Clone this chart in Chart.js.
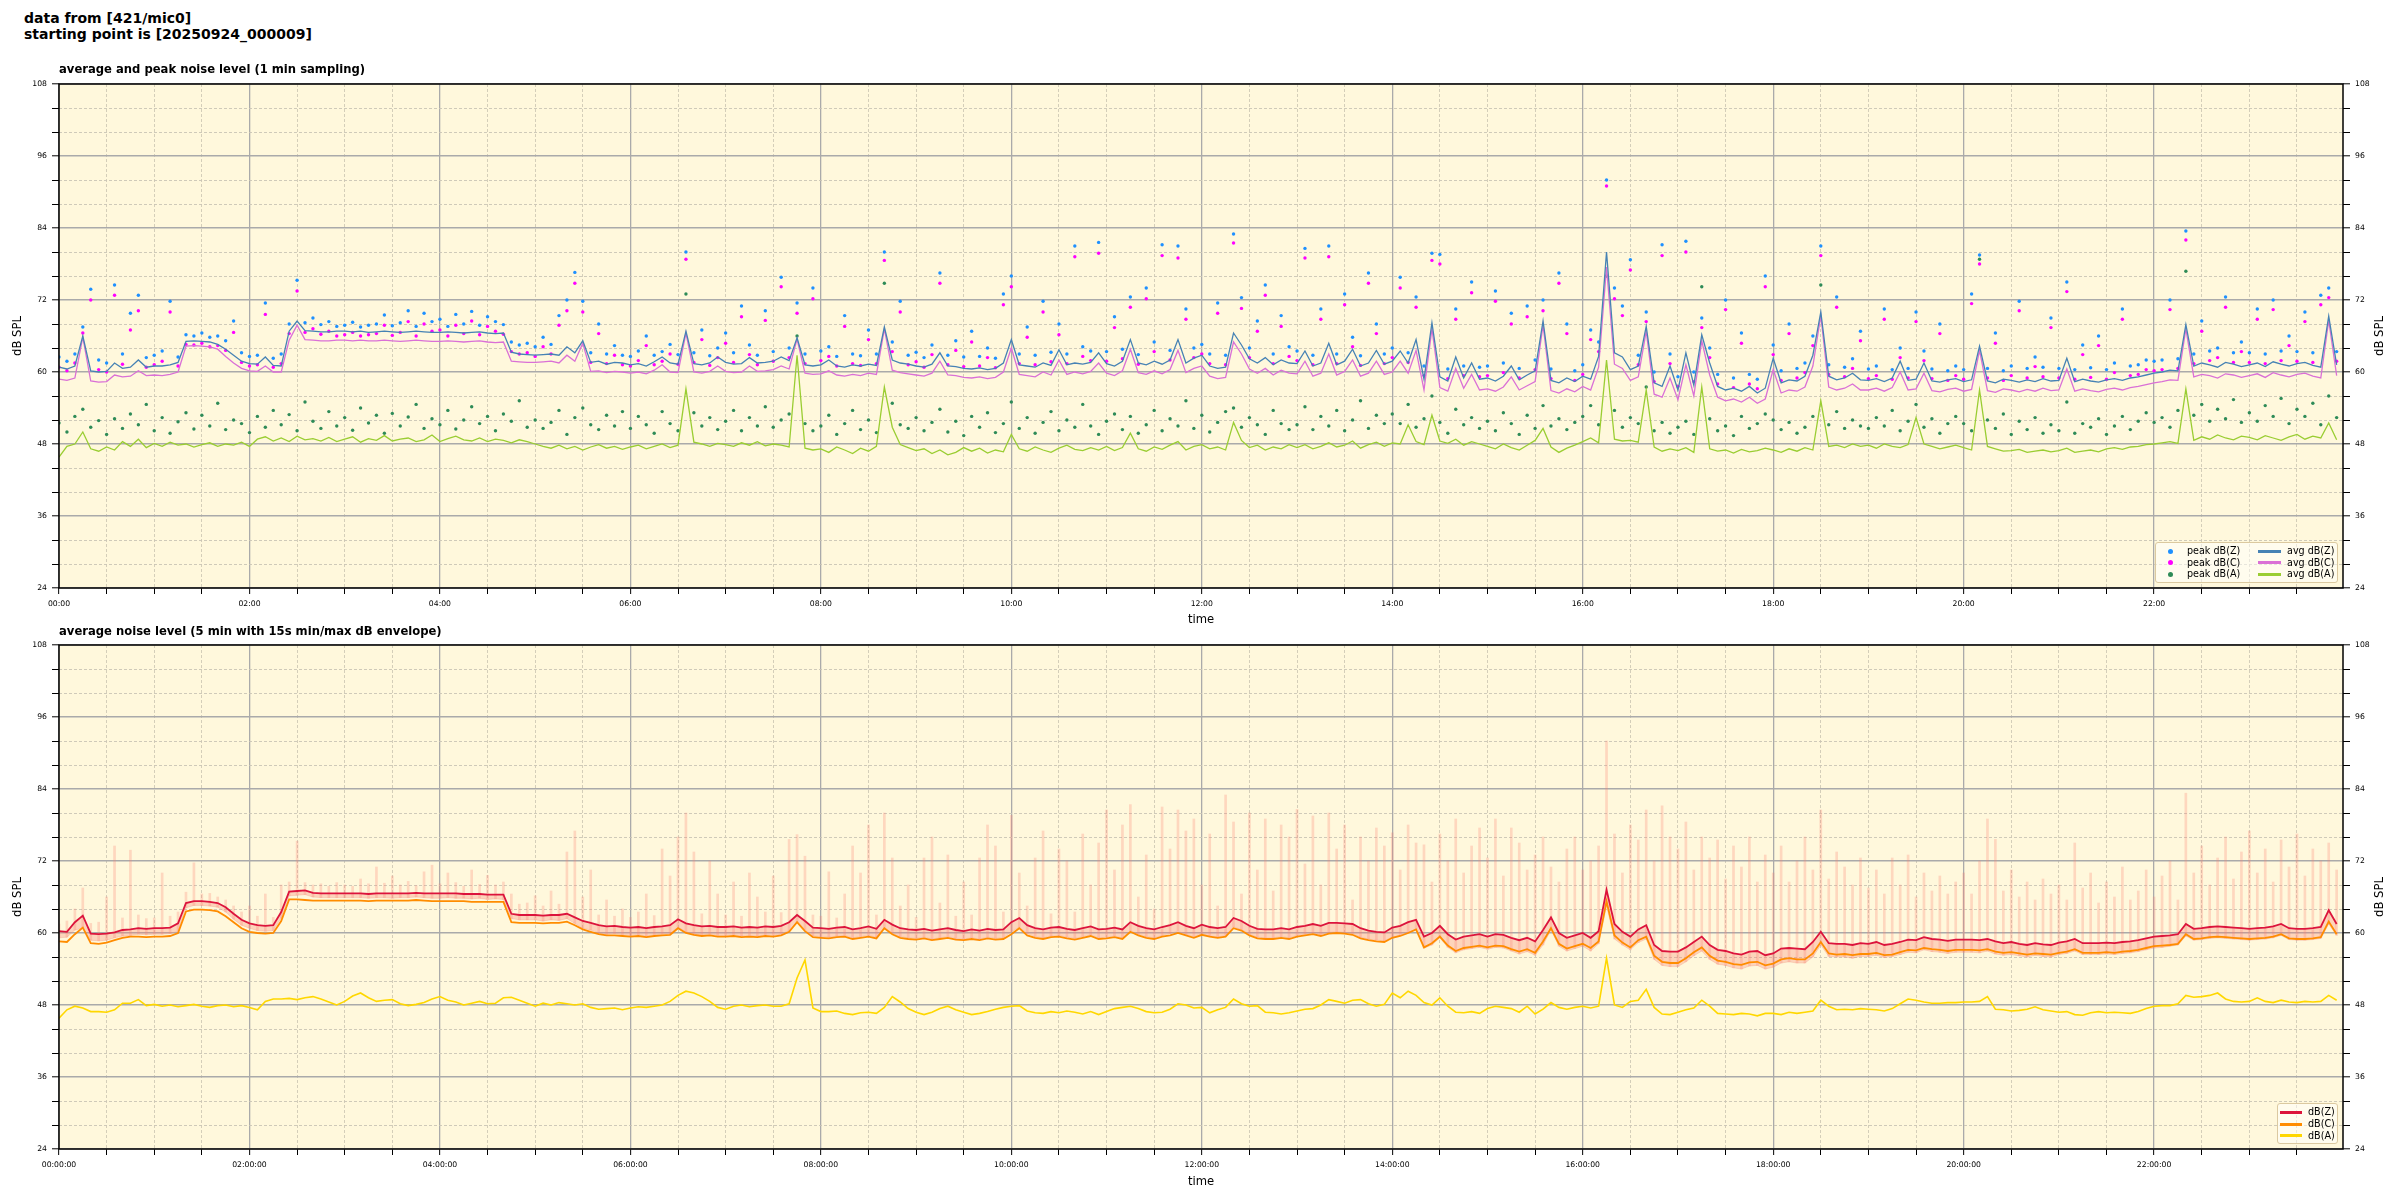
<!DOCTYPE html>
<html lang="en">
<head>
<meta charset="UTF-8">
<title>noise level 421/mic0</title>
<script src="https://cdn.jsdelivr.net/npm/chart.js@4.4.1/dist/chart.umd.min.js"></script>
<style>
  * { box-sizing: border-box; }
  html, body { margin: 0; padding: 0; background: #fff; }
  body { width: 2400px; height: 1200px; position: relative; overflow: hidden; font-family: 'DejaVu Sans', sans-serif; color: #000; }
  .suptitle { position: absolute; left: 24px; top: 10px; font-size: 14px; font-weight: bold; line-height: 16px; }
  .subtitle { position: absolute; left: 59px; font-size: 11.6px; font-weight: bold; line-height: 1; z-index: 2; white-space: nowrap; }
  .box { position: absolute; left: 0; width: 2400px; }
  .legend { position: absolute; z-index: 3; background: rgba(255,255,255,0.5); border: 1px solid #dbc9a0; border-radius: 3px; font-size: 9.6px; }
  .legend span { position: absolute; white-space: nowrap; line-height: 12px; }
  .legend i { position: absolute; display: block; }
</style>
</head>
<body>
<div class="suptitle">data from [421/mic0]<br>starting point is [20250924_000009]</div>
<div class="subtitle" style="top:64px">average and peak noise level (1 min sampling)</div>
<div class="subtitle" style="top:626px">average noise level (5 min with 15s min/max dB envelope)</div>

<div class="box" style="top:60px;height:580px"><canvas id="top"></canvas></div>
<div class="box" style="top:630px;height:570px"><canvas id="bottom"></canvas></div>

<div class="legend" style="left:2155px;top:542px;width:183px;height:41px">
  <i style="left:12px;top:6px;width:5px;height:5px;border-radius:50%;background:dodgerblue"></i><span style="left:31px;top:2px">peak dB(Z)</span>
  <i style="left:12px;top:17px;width:5px;height:5px;border-radius:50%;background:magenta"></i><span style="left:31px;top:13.5px">peak dB(C)</span>
  <i style="left:12px;top:28.5px;width:5px;height:5px;border-radius:50%;background:seagreen"></i><span style="left:31px;top:25px">peak dB(A)</span>
  <i style="left:102px;top:6.5px;width:23px;height:3px;background:steelblue"></i><span style="left:131px;top:2px">avg dB(Z)</span>
  <i style="left:102px;top:18px;width:23px;height:3px;background:orchid"></i><span style="left:131px;top:13.5px">avg dB(C)</span>
  <i style="left:102px;top:29.5px;width:23px;height:3px;background:yellowgreen"></i><span style="left:131px;top:25px">avg dB(A)</span>
</div>
<div class="legend" style="left:2277px;top:1103px;width:61px;height:41px">
  <i style="left:2px;top:6.5px;width:22px;height:3px;background:crimson"></i><span style="left:30px;top:2px">dB(Z)</span>
  <i style="left:2px;top:18.5px;width:22px;height:3px;background:darkorange"></i><span style="left:30px;top:14px">dB(C)</span>
  <i style="left:2px;top:30px;width:22px;height:3px;background:gold"></i><span style="left:30px;top:25.5px">dB(A)</span>
</div>

<script>
// one value every 5 minutes, 00:00 .. 23:55 (one row per hour)
const STEP_MIN = 5;
const X_MIN = 0, X_MAX = 1439;
const Y_MIN = 24, Y_MAX = 108;

// top panel: 1 min averages
const avgZ = [
60.8,60.5,61.0,66.0,60.2,60.0,60.1,61.5,60.6,60.8,62.0,60.8,
61.0,61.0,61.2,61.6,65.1,65.2,65.1,65.0,64.6,63.8,62.8,61.8,
61.4,61.3,62.5,61.1,61.0,66.8,68.5,66.9,66.8,66.7,66.7,66.8,
66.8,66.7,66.8,66.6,66.7,66.8,66.7,66.6,66.7,66.8,66.7,66.6,
66.6,66.7,66.6,66.5,66.6,66.7,66.5,66.4,66.5,63.3,63.0,62.9,
62.8,62.9,63.0,62.8,64.2,63.2,65.2,61.6,61.8,61.3,61.6,61.5,
61.2,61.4,61.0,61.7,62.5,61.5,61.3,66.8,61.4,61.2,61.5,62.5,
61.6,61.3,61.4,62.4,61.5,61.6,61.8,62.5,61.9,65.7,61.2,61.0,
61.2,62.0,61.0,60.8,61.2,61.0,61.3,61.1,67.5,62.0,61.5,61.3,
61.0,60.8,61.3,63.2,61.0,60.9,60.6,60.5,60.7,60.4,60.6,61.5,
65.4,61.2,61.0,60.8,61.5,61.1,63.7,61.2,61.5,61.3,61.6,63.2,
61.4,61.0,61.8,65.4,61.5,61.2,61.8,61.3,62.0,65.4,61.5,62.3,
62.8,61.0,60.6,60.8,66.5,64.5,62.2,61.5,62.4,61.2,62.0,61.5,
61.4,63.5,61.0,61.5,64.8,61.2,61.8,63.8,61.0,61.5,63.6,61.3,
61.8,63.5,61.5,65.4,58.8,68.2,59.2,58.5,62.5,59.0,61.5,58.8,
59.0,58.5,59.3,61.0,58.7,59.5,60.2,68.5,58.6,58.2,59.0,58.4,
59.3,58.8,62.6,80.0,63.2,62.5,60.4,61.0,67.6,58.2,57.6,61.0,
57.0,63.2,57.8,66.2,61.5,57.6,57.0,57.3,56.8,57.6,56.5,57.3,
62.3,58.2,58.7,58.5,59.3,62.8,70.0,59.3,58.7,59.0,59.8,58.7,
58.6,58.9,58.4,59.0,61.8,58.6,58.8,61.5,58.5,58.3,58.7,58.9,
58.4,58.7,64.3,58.5,58.2,58.8,58.6,58.3,58.7,58.4,58.9,58.5,
58.6,62.3,58.4,58.8,58.5,58.3,58.7,58.9,58.6,59.0,59.2,59.5,
59.8,60.0,60.3,60.2,67.9,61.0,61.5,61.2,60.8,61.6,61.3,60.9,
61.2,61.5,60.9,61.7,61.3,61.0,61.4,61.6,61.1,60.8,69.3,61.2];

const avgC = [
58.8,58.6,59.0,65.8,58.5,58.3,58.4,59.5,59.2,59.3,60.2,59.4,
59.5,59.4,59.6,60.0,64.3,64.4,64.3,64.2,63.8,62.6,61.5,60.6,
60.2,60.1,61.0,60.0,60.0,65.3,67.8,65.4,65.3,65.2,65.2,65.3,
65.3,65.2,65.3,65.2,65.2,65.3,65.2,65.1,65.2,65.3,65.2,65.1,
65.1,65.2,65.1,65.0,65.1,65.2,65.0,64.9,65.0,61.8,61.7,61.6,
61.6,61.7,61.8,61.5,62.8,61.8,64.8,60.1,60.2,59.9,60.1,60.0,
59.8,60.0,59.7,60.3,61.2,60.0,59.9,66.5,60.0,59.8,60.1,61.0,
60.1,59.9,60.0,61.0,60.1,60.2,60.4,61.0,60.5,65.5,59.8,59.6,
59.7,60.2,59.5,59.3,59.6,59.4,59.8,59.6,67.2,60.3,59.9,59.7,
59.5,59.3,59.8,61.8,59.5,59.4,59.1,59.0,59.2,58.9,59.1,60.0,
64.0,59.6,59.4,59.2,60.0,59.5,62.0,59.6,60.0,59.7,60.1,61.5,
59.8,59.4,60.2,63.8,59.9,59.6,60.2,59.7,60.4,63.6,59.9,60.6,
61.0,59.3,58.9,59.1,65.0,63.0,60.5,59.8,60.6,59.5,60.3,59.8,
59.7,61.8,59.3,59.8,63.0,59.5,60.1,62.0,59.3,59.8,61.8,59.6,
60.0,61.8,59.8,63.6,57.0,67.2,57.4,56.8,60.6,57.3,59.6,57.0,
57.2,56.8,57.5,59.2,57.0,57.7,58.4,67.8,56.9,56.5,57.2,56.7,
57.6,57.0,60.8,77.5,61.3,60.6,58.6,59.2,66.8,56.3,55.8,59.0,
55.4,61.2,56.0,65.2,59.5,55.8,55.2,55.5,55.0,55.8,54.8,55.5,
60.4,56.5,57.0,56.8,57.5,61.0,69.4,57.5,57.0,57.3,58.0,57.0,
57.0,57.3,56.8,57.4,60.0,57.0,57.2,59.8,56.9,56.7,57.1,57.3,
56.8,57.1,63.6,56.9,56.6,57.2,57.0,56.7,57.1,56.8,57.3,56.9,
57.0,60.5,56.8,57.2,56.9,56.7,57.1,57.3,57.0,57.4,57.6,57.9,
58.2,58.4,58.7,58.6,67.2,59.2,59.6,59.4,59.0,59.7,59.5,59.1,
59.4,59.7,59.1,59.9,59.5,59.2,59.6,59.8,59.3,59.0,68.6,59.4];

const avgA = [
45.8,47.6,48.0,50.0,47.2,46.8,47.5,47.0,48.4,47.6,48.8,47.4,
48.1,47.6,48.3,47.8,48.0,47.5,47.9,48.2,47.6,48.0,47.8,48.3,
47.6,48.8,49.2,48.5,49.0,48.4,49.3,48.7,48.9,48.5,49.1,48.4,
48.8,49.2,48.3,48.9,48.6,49.4,48.5,48.8,49.0,48.4,48.7,49.5,
48.4,48.9,49.3,48.7,48.5,49.0,48.4,48.8,48.6,48.2,48.7,48.4,
48.0,47.6,47.3,47.8,47.2,47.6,47.0,47.5,47.9,47.3,47.6,47.1,
47.5,47.8,47.2,47.6,48.0,47.4,47.8,57.2,48.3,48.0,47.6,48.1,
47.9,47.6,48.2,47.8,48.4,47.7,48.0,47.8,47.5,62.8,47.3,47.0,
47.2,46.6,47.5,47.0,46.4,47.3,46.8,47.6,57.5,50.8,47.9,47.4,
46.9,47.2,46.4,47.0,46.2,46.6,47.4,46.8,47.3,46.5,47.0,46.7,
49.6,47.2,46.8,47.5,47.0,46.6,47.3,47.8,47.1,46.9,47.4,47.0,
47.6,46.9,47.4,49.8,47.2,46.8,47.5,47.1,47.8,48.4,47.0,47.6,
47.9,47.2,47.5,47.0,51.6,48.6,47.4,47.8,47.0,47.5,47.2,47.9,
47.4,47.9,47.2,47.6,48.2,47.5,47.8,48.5,47.3,47.9,48.3,47.6,
48.2,48.0,51.2,48.4,47.9,52.8,48.5,48.1,48.8,47.8,48.4,48.0,
47.6,47.2,48.0,47.4,47.0,47.8,48.6,50.6,47.5,46.6,47.3,47.8,
48.4,49.0,48.2,62.0,48.8,48.5,48.6,48.3,57.0,47.5,46.8,47.2,
46.9,47.4,46.6,57.5,47.2,46.8,47.0,46.5,47.1,46.7,46.9,47.3,
47.0,46.6,47.2,46.8,47.4,47.0,55.2,47.6,47.8,47.4,48.0,47.6,
47.8,47.3,48.0,47.6,47.4,47.9,52.4,48.0,47.6,47.2,47.5,47.8,
47.4,47.0,57.0,47.6,47.2,46.8,46.9,47.1,46.6,46.8,47.0,46.7,
46.9,47.3,46.6,46.8,47.0,46.7,47.2,47.4,47.1,47.5,47.6,47.9,
48.0,48.2,48.4,48.1,57.2,48.6,49.2,48.8,49.5,49.0,48.7,49.3,
49.1,48.7,49.4,49.0,48.6,49.2,49.6,48.8,49.3,49.0,51.5,48.7];

// top panel: 1 min peaks
const peakZ = [
62.5,61.8,63.0,67.5,73.8,62.0,61.5,74.5,63.0,69.8,72.8,62.4,
62.8,63.5,71.8,62.5,66.2,66.0,66.5,65.8,66.0,65.2,68.5,63.2,
62.6,62.8,71.5,62.3,63.0,68.0,75.3,68.2,69.0,67.9,68.4,67.6,
67.8,68.3,67.5,67.8,68.0,69.5,67.7,68.2,70.2,67.6,69.8,68.4,
68.8,67.6,69.6,68.0,70.1,67.8,69.2,68.4,67.9,65.0,64.5,64.8,
64.2,65.8,64.6,69.4,72.0,76.6,71.8,63.2,68.0,63.0,64.4,62.8,
62.6,63.5,66.0,62.8,63.4,64.6,62.9,80.0,63.2,67.0,62.7,64.0,
66.5,63.2,71.0,64.5,62.8,70.2,63.4,75.8,64.0,71.5,63.0,74.0,
63.5,64.2,62.6,69.4,63.0,62.7,67.0,63.0,80.0,65.0,71.8,62.8,
63.3,62.4,64.5,76.5,62.8,65.2,62.5,66.8,62.6,64.0,62.3,73.0,
76.0,63.0,67.5,62.8,71.8,63.3,68.0,63.0,81.0,64.2,63.5,81.6,
63.4,69.2,63.8,72.5,62.9,74.0,65.0,81.2,63.6,81.0,70.5,64.0,
64.6,63.0,71.5,62.8,83.0,72.4,64.0,68.5,74.5,63.0,69.4,64.2,
63.5,80.6,62.8,70.5,81.0,63.0,73.0,65.8,62.7,76.5,68.0,63.0,
64.0,75.8,63.2,72.5,61.0,79.8,79.6,60.5,70.5,61.0,75.0,60.8,
61.0,73.5,61.5,69.8,60.6,71.0,62.0,72.0,60.5,76.5,68.0,60.2,
61.2,67.0,65.0,92.0,74.0,71.0,78.7,62.8,70.0,60.0,81.2,63.0,
59.2,81.8,60.0,69.0,64.0,59.6,72.0,59.0,66.5,59.6,58.8,76.0,
64.5,60.2,68.0,60.6,61.5,66.0,81.0,61.2,72.5,60.8,62.2,66.8,
60.5,61.0,70.5,60.4,64.0,60.6,70.0,63.5,60.5,68.0,60.2,61.0,
60.4,73.0,79.5,60.6,66.5,60.2,61.0,71.8,60.6,62.5,60.8,69.0,
60.6,75.0,60.4,64.5,60.7,66.0,60.4,61.5,70.5,61.0,61.2,62.0,
61.8,62.0,72.0,62.2,83.5,63.0,68.5,63.5,64.0,72.5,63.2,65.0,
63.2,70.5,63.0,72.0,63.5,66.0,63.4,70.0,63.2,72.8,74.0,63.4];

const peakC = [
60.8,60.2,61.5,66.5,72.0,60.4,60.0,72.8,61.3,67.0,70.2,60.8,
61.2,61.8,70.0,61.0,64.6,64.5,64.8,64.2,64.4,63.6,66.6,61.6,
61.0,61.2,69.6,60.8,61.4,66.4,73.5,66.6,67.2,66.3,66.8,66.0,
66.2,66.6,66.0,66.2,66.4,67.8,66.1,66.6,68.4,66.0,68.0,66.8,
67.0,66.0,67.8,66.4,68.5,66.2,67.6,66.8,66.3,63.4,63.0,63.2,
62.6,64.2,63.0,67.8,70.2,74.8,70.0,61.6,66.4,61.4,62.8,61.2,
61.0,61.9,64.4,61.2,61.8,63.0,61.3,78.8,61.6,65.4,61.1,62.4,
64.8,61.6,69.2,62.9,61.2,68.6,61.8,74.2,62.4,69.8,61.4,72.2,
61.9,62.6,61.0,67.6,61.4,61.1,65.4,61.4,78.6,63.4,70.0,61.2,
61.7,60.8,62.9,74.8,61.2,63.6,60.9,65.0,61.0,62.4,60.7,71.2,
74.2,61.4,65.8,61.2,70.0,61.7,66.2,61.4,79.2,62.6,61.9,79.8,
61.8,67.4,62.2,70.8,61.3,72.2,63.4,79.4,62.0,79.0,68.8,62.4,
63.0,61.4,69.8,61.2,81.5,70.6,62.4,66.8,72.8,61.4,67.6,62.6,
61.9,79.0,61.2,68.8,79.2,61.4,71.2,64.2,61.1,74.8,66.4,61.4,
62.4,74.0,61.6,70.8,59.4,78.6,78.0,58.9,68.8,59.4,73.2,59.2,
59.4,71.8,59.9,68.0,59.0,69.2,60.4,70.2,58.9,74.8,66.4,58.6,
59.6,65.4,63.4,91.0,72.2,69.4,77.0,61.2,68.4,58.4,79.4,61.4,
57.6,80.0,58.4,67.4,62.4,58.0,70.4,57.4,64.8,58.0,57.2,74.2,
62.9,58.6,66.4,59.0,59.9,64.4,79.4,59.6,70.8,59.2,60.6,65.2,
58.9,59.4,68.8,58.8,62.4,59.0,68.4,61.9,58.9,66.4,58.6,59.4,
58.8,71.4,78.0,59.0,64.8,58.6,59.4,70.2,59.0,60.9,59.2,67.4,
59.0,73.4,58.8,62.9,59.1,64.4,58.8,59.9,68.8,59.4,59.6,60.4,
60.2,60.4,70.4,60.6,82.0,61.4,66.8,61.9,62.4,70.8,61.6,63.4,
61.6,68.8,61.4,70.4,61.9,64.4,61.8,68.4,61.6,71.2,72.4,61.8];

const peakA = [
51.5,50.0,52.6,53.8,50.8,51.9,49.6,52.2,50.6,53.0,51.2,54.6,
50.2,52.4,49.8,51.7,53.2,50.5,52.8,51.0,54.8,50.4,52.0,51.4,
49.9,52.6,50.8,53.6,51.2,52.9,50.2,55.0,51.8,50.6,53.4,51.0,
52.4,50.3,54.0,51.5,52.8,49.8,53.1,51.0,52.5,54.6,50.6,52.2,
51.2,53.6,50.5,52.0,54.2,51.4,52.6,50.2,53.0,51.8,55.2,50.8,
52.0,50.6,51.6,53.6,49.6,52.4,54.0,51.2,50.4,52.8,51.0,53.4,
50.6,52.6,51.2,49.8,53.4,51.4,50.2,73.0,53.2,51.0,52.4,50.4,
51.8,53.6,50.2,52.4,51.0,54.2,50.8,52.0,53.0,66.0,51.4,50.2,
51.0,52.8,49.6,51.4,53.6,50.4,52.0,49.9,74.8,54.8,51.2,50.6,
52.4,50.2,51.6,53.8,50.0,51.8,49.4,52.6,50.8,53.2,49.9,51.4,
55.0,50.6,52.4,49.8,51.6,53.4,50.2,52.0,50.8,54.6,51.0,49.6,
51.8,53.0,50.4,52.6,49.8,51.2,53.6,50.2,52.2,51.0,55.2,50.6,
52.8,50.0,51.6,53.4,54.0,50.8,52.4,51.2,49.6,53.6,51.4,50.4,
51.2,54.2,50.4,52.6,51.0,53.6,50.2,52.0,55.2,50.6,52.8,51.4,
53.0,51.4,54.6,50.8,52.2,56.0,51.6,49.8,53.8,51.2,52.4,50.6,
51.8,50.2,53.2,51.4,49.6,52.8,50.6,54.4,51.0,52.2,50.4,51.6,
52.6,54.4,51.2,76.0,53.6,50.8,52.4,51.4,57.5,50.2,51.6,49.8,
50.8,51.8,49.6,74.2,52.2,50.2,51.0,49.4,52.6,50.6,51.4,53.0,
52.0,50.4,51.6,49.8,50.8,52.6,74.5,51.2,53.4,50.6,52.0,51.0,
50.6,52.4,51.0,53.6,50.2,51.8,54.6,50.8,52.2,49.8,51.4,52.6,
51.4,50.2,78.8,52.0,50.6,53.0,49.6,51.8,50.4,52.4,49.8,51.2,
50.2,55.0,49.8,51.4,50.8,52.2,49.6,51.0,52.6,50.4,51.8,53.2,
51.6,52.4,50.8,53.6,76.8,52.8,54.6,51.8,53.8,52.2,55.4,51.6,
53.2,51.8,54.4,52.6,55.6,51.4,53.8,52.6,54.8,51.2,56.0,52.4];

// bottom panel: 5 min averages
const avg5Z = [
60.3,60.2,61.8,62.9,59.9,59.8,59.9,60.1,60.5,60.6,60.8,60.7,
60.8,60.8,60.9,61.6,65.0,65.3,65.3,65.2,65.0,64.3,63.2,62.2,
61.6,61.3,61.2,61.3,63.5,66.9,67.0,67.1,66.7,66.6,66.6,66.6,
66.6,66.6,66.6,66.5,66.6,66.6,66.6,66.6,66.6,66.7,66.6,66.6,
66.6,66.6,66.6,66.5,66.5,66.5,66.4,66.4,66.4,63.2,63.0,63.0,
63.0,62.9,63.0,63.0,63.2,62.6,62.0,61.7,61.3,61.1,61.2,61.0,
60.9,61.0,60.8,61.0,61.1,61.3,62.3,61.6,61.3,61.1,61.2,61.0,
61.0,61.1,60.9,61.0,60.9,61.1,61.0,61.2,61.8,63.0,62.0,60.9,
60.8,60.7,60.9,61.0,60.6,60.8,61.1,60.7,62.2,61.4,60.8,60.6,
60.5,60.7,60.4,60.6,60.8,60.5,60.3,60.6,60.4,60.7,60.5,60.6,
61.8,62.5,61.3,60.8,60.6,60.9,61.0,60.7,60.5,60.8,61.1,60.6,
60.7,60.9,60.6,61.8,61.2,60.8,60.6,61.0,61.3,61.8,61.2,60.8,
61.4,61.0,60.8,61.0,62.5,62.0,61.2,60.7,60.6,60.6,60.8,60.6,
61.0,61.2,61.5,61.2,61.7,61.7,61.6,61.5,60.8,60.4,60.2,60.1,
60.9,61.2,61.8,62.2,59.4,60.0,61.2,59.8,58.9,59.4,59.6,59.8,
59.4,59.8,59.7,59.2,58.8,59.2,58.6,60.5,62.6,60.0,59.2,59.6,
60.0,59.2,60.3,67.2,61.5,60.2,59.4,60.6,61.3,58.0,57.0,56.9,
56.9,57.6,58.5,59.4,58.0,57.2,57.0,56.6,56.4,56.9,57.0,56.3,
56.6,57.4,57.5,57.4,57.3,58.5,60.2,58.3,58.2,58.2,58.0,58.3,
58.2,58.5,58.0,58.2,58.5,58.9,58.8,59.3,59.0,58.9,58.7,58.9,
58.9,58.9,58.8,59.0,58.6,58.3,58.5,58.2,58.0,58.3,58.1,58.0,
58.4,58.6,59.0,58.3,58.3,58.3,58.4,58.3,58.5,58.6,58.8,59.1,
59.4,59.5,59.6,59.8,61.5,60.7,60.8,61.0,61.1,61.0,60.9,60.8,
60.7,60.8,60.9,61.1,61.5,60.8,60.7,60.7,60.8,61.0,63.8,61.5];

const avg5C = [
58.6,58.5,59.8,60.9,58.3,58.2,58.4,58.8,59.2,59.4,59.4,59.3,
59.4,59.4,59.5,60.0,63.6,63.9,63.9,63.8,63.6,62.8,61.8,60.8,
60.2,60.0,59.9,60.0,62.0,65.6,65.6,65.5,65.4,65.4,65.4,65.4,
65.4,65.4,65.4,65.3,65.4,65.4,65.4,65.4,65.4,65.5,65.4,65.3,
65.3,65.3,65.3,65.3,65.2,65.2,65.2,65.2,65.2,61.8,61.7,61.7,
61.7,61.6,61.7,61.7,61.9,61.3,60.6,60.2,59.8,59.6,59.6,59.5,
59.4,59.5,59.3,59.5,59.6,59.7,60.8,60.0,59.7,59.5,59.6,59.4,
59.4,59.5,59.3,59.4,59.3,59.5,59.4,59.6,60.2,61.8,60.3,59.3,
59.2,59.1,59.3,59.4,59.0,59.2,59.4,59.1,60.8,59.8,59.2,59.0,
58.9,59.1,58.8,59.0,59.2,58.9,58.8,59.0,58.8,59.1,58.9,59.0,
59.8,60.8,59.6,59.2,59.0,59.3,59.4,59.1,58.9,59.2,59.5,59.0,
59.1,59.3,59.0,60.2,59.6,59.2,59.0,59.4,59.6,60.0,59.6,59.2,
59.7,59.4,59.2,59.4,60.8,60.4,59.6,59.1,59.0,59.0,59.2,59.0,
59.4,59.6,59.8,59.5,59.9,60.0,59.9,59.7,59.1,58.8,58.6,58.5,
59.2,59.5,60.0,60.6,57.6,58.3,59.4,57.9,57.0,57.5,57.7,57.9,
57.6,57.9,57.8,57.3,56.9,57.3,56.7,58.6,60.8,58.2,57.4,57.8,
58.2,57.5,58.6,65.3,59.6,58.4,57.6,58.8,59.4,56.2,55.2,55.0,
55.0,55.8,56.8,57.6,56.2,55.4,55.2,54.8,54.7,55.1,55.2,54.6,
54.9,55.6,55.8,55.6,55.6,56.6,58.5,56.6,56.4,56.5,56.3,56.5,
56.5,56.7,56.3,56.4,56.8,57.2,57.1,57.5,57.3,57.2,57.0,57.2,
57.2,57.2,57.1,57.3,56.9,56.7,56.8,56.6,56.4,56.6,56.5,56.4,
56.7,56.9,57.3,56.7,56.7,56.7,56.8,56.7,56.9,57.0,57.2,57.5,
57.8,57.9,58.0,58.2,59.8,59.0,59.1,59.3,59.4,59.3,59.2,59.1,
59.0,59.1,59.2,59.4,59.8,59.1,59.0,59.0,59.1,59.3,61.9,59.8];

const avg5A = [
45.8,47.2,47.8,47.5,46.9,46.9,46.8,47.2,48.3,48.3,48.9,47.9,
48.1,47.8,48.0,47.7,47.9,48.1,47.8,47.6,47.9,48.0,47.7,47.9,
47.6,47.2,48.6,49.0,49.0,49.1,48.9,49.2,49.4,49.0,48.5,48.0,
48.6,49.5,50.0,49.2,48.6,48.8,48.9,48.2,47.9,48.1,48.4,49.0,
49.4,48.8,48.5,48.0,48.3,48.6,48.2,48.3,49.2,49.3,48.8,48.3,
47.8,48.3,48.0,48.4,48.2,48.0,48.2,47.6,47.3,47.4,47.5,47.2,
47.5,47.7,47.6,47.8,48.0,48.6,49.6,50.3,50.0,49.4,48.6,47.6,
47.3,47.8,48.0,47.7,47.9,48.0,47.8,47.8,48.2,52.5,55.5,47.5,
46.9,46.9,47.0,46.6,46.4,46.7,46.8,46.6,47.6,49.4,48.5,47.4,
46.8,46.4,46.8,47.4,47.8,47.2,46.8,46.4,46.6,46.9,47.3,47.6,
47.8,47.9,47.0,46.7,46.6,46.9,46.7,47.0,46.8,46.5,46.9,46.4,
46.9,47.4,47.6,47.8,47.4,46.9,46.7,46.8,47.3,48.2,48.0,47.5,
47.6,46.7,47.2,47.6,49.0,48.2,47.8,47.9,46.8,46.7,46.5,46.7,
47.0,47.3,47.4,48.0,48.9,48.6,48.3,48.8,48.9,48.2,47.8,48.1,
50.0,49.2,50.3,49.6,48.4,48.0,49.2,47.8,46.8,46.7,46.9,46.6,
47.4,47.8,47.6,47.4,46.8,47.8,46.5,47.3,48.4,47.6,47.3,47.6,
47.8,47.5,47.8,55.8,48.0,47.6,48.6,48.8,50.6,47.6,46.5,46.4,
46.8,47.2,47.5,48.8,47.8,46.6,46.5,46.4,46.6,46.5,46.2,46.6,
46.6,46.4,46.8,46.6,46.8,47.0,48.8,47.8,47.2,47.3,47.2,47.4,
47.3,47.2,47.0,47.4,48.2,49.0,48.8,48.5,48.3,48.3,48.4,48.4,
48.5,48.5,48.6,49.4,47.3,47.2,47.0,47.1,47.3,47.7,47.2,47.0,
46.8,46.9,46.4,46.3,46.7,46.9,46.7,46.8,46.7,46.6,46.9,47.4,
47.8,47.9,47.9,48.2,49.6,49.3,49.4,49.6,50.0,49.0,48.6,48.5,
48.6,49.2,48.6,48.4,48.8,48.5,48.4,48.6,48.5,48.6,49.6,48.8];

// bottom panel: 15 s min/max envelope of dB(Z), per 5 min
const envMax = [
61.5,62.0,64.0,67.5,61.6,61.8,66.0,74.5,62.5,73.8,63.0,62.4,
62.5,70.0,62.8,63.5,66.8,71.7,66.5,66.6,66.0,65.5,64.5,63.5,
64.5,62.8,66.5,62.6,68.0,68.5,75.3,68.4,68.0,68.2,67.8,68.4,
68.0,67.8,69.0,68.2,71.0,68.3,69.5,68.0,68.6,67.9,70.2,71.3,
68.2,70.0,68.4,67.8,70.5,68.1,69.6,68.0,68.5,66.5,64.8,65.0,
66.2,64.5,67.0,64.8,73.5,77.0,66.0,70.5,63.0,65.5,62.8,64.0,
62.6,63.5,66.5,62.9,74.0,69.5,76.0,80.0,73.5,63.2,72.0,66.5,
63.0,68.5,62.8,70.0,66.0,63.5,69.5,63.4,75.6,76.4,72.8,63.0,
62.8,70.2,62.5,66.5,74.5,70.0,78.0,63.0,80.0,72.5,64.5,68.0,
62.6,72.5,76.0,65.0,73.0,62.8,68.5,63.0,72.5,78.0,74.5,63.5,
79.6,70.0,64.5,72.5,77.0,63.2,74.0,72.0,63.5,76.5,68.0,75.0,
80.5,70.5,78.0,81.4,66.0,73.0,64.0,81.0,74.0,80.5,77.0,79.0,
68.0,76.5,64.5,83.0,78.5,66.5,80.0,70.5,79.0,67.0,78.0,76.0,
80.6,71.5,79.5,68.0,80.0,74.0,78.0,65.5,76.0,72.0,77.5,74.5,
76.7,70.5,78.0,75.0,74.7,68.5,76.5,72.0,79.0,70.0,74.5,77.5,
72.5,79.0,69.5,77.5,75.0,70.5,73.0,76.0,71.0,68.5,74.0,76.0,
70.5,72.0,74.5,92.0,76.5,70.0,78.0,75.5,80.5,72.0,81.2,76.0,
74.0,78.5,70.5,76.0,72.5,75.5,69.0,74.5,71.0,76.0,68.5,73.0,
70.0,74.5,68.5,72.0,76.0,70.5,80.5,69.0,73.5,71.0,68.0,72.5,
67.5,70.5,66.5,72.5,68.0,73.0,66.0,70.0,67.0,69.5,66.5,68.5,
70.0,66.5,72.0,79.0,75.6,67.0,70.5,66.0,68.5,65.5,69.0,66.5,
68.0,65.5,75.0,67.5,70.0,65.0,68.5,66.0,71.0,65.5,67.0,70.5,
66.0,69.5,72.0,65.5,83.3,70.0,74.5,68.0,72.5,76.0,69.0,73.5,
77.0,70.0,74.0,68.5,75.5,71.0,76.5,69.5,74.0,72.0,75.0,70.5];

const envMin = [
59.2,59.3,60.5,60.8,58.8,58.7,58.8,59.2,59.5,59.6,59.8,59.7,
59.8,59.8,59.9,60.3,64.2,64.6,64.6,64.5,64.3,63.5,62.3,61.3,
60.8,60.4,60.3,60.4,62.5,66.2,66.3,66.4,66.0,65.9,65.9,65.9,
65.9,65.9,65.9,65.8,65.9,65.9,65.8,65.9,65.9,66.0,65.9,65.8,
65.8,65.9,65.8,65.8,65.7,65.8,65.6,65.7,65.6,62.4,62.2,62.2,
62.2,62.0,62.2,62.1,62.4,61.6,60.8,60.5,60.0,59.8,59.9,59.7,
59.6,59.7,59.5,59.7,59.8,59.9,61.0,60.2,59.8,59.7,59.8,59.6,
59.6,59.7,59.5,59.6,59.5,59.7,59.6,59.8,60.4,61.8,60.6,59.5,
59.4,59.3,59.5,59.6,59.2,59.4,59.6,59.3,60.9,60.0,59.4,59.2,
59.1,59.3,59.0,59.2,59.4,59.1,59.0,59.2,59.0,59.3,59.1,59.2,
60.2,61.0,59.9,59.4,59.2,59.5,59.6,59.3,59.1,59.4,59.7,59.2,
59.3,59.5,59.2,60.4,59.8,59.4,59.2,59.6,59.9,60.3,59.8,59.4,
59.9,59.5,59.3,59.6,61.0,60.6,59.8,59.3,59.2,59.2,59.4,59.2,
59.6,59.8,60.0,59.7,60.1,60.2,60.1,59.9,59.3,59.0,58.8,58.7,
59.3,59.6,60.1,60.6,57.5,58.0,59.2,57.6,56.7,57.2,57.4,57.6,
57.3,57.6,57.5,57.0,56.5,56.9,56.3,58.0,60.5,57.8,57.0,57.4,
57.8,57.0,58.2,64.5,59.0,58.0,57.2,58.4,59.0,55.6,54.6,54.4,
54.4,55.2,56.2,57.0,55.6,54.8,54.6,54.2,54.0,54.5,54.6,54.0,
54.3,55.0,55.2,55.0,55.0,56.0,58.0,56.1,56.0,56.0,55.8,56.1,
56.1,56.3,55.9,56.1,56.4,56.8,56.7,57.2,56.9,56.8,56.6,56.8,
56.8,56.8,56.7,57.0,56.5,56.3,56.4,56.2,56.0,56.3,56.1,56.0,
56.4,56.6,57.0,56.4,56.4,56.4,56.5,56.4,56.6,56.7,56.9,57.2,
57.5,57.6,57.8,58.0,59.5,58.8,58.9,59.1,59.2,59.1,59.0,58.9,
58.8,58.9,59.0,59.2,59.6,58.9,58.8,58.8,58.9,59.1,61.5,59.6];

const pad2 = n => String(n).padStart(2, '0');
const hhmm = m => pad2(Math.floor(m / 60)) + ':' + pad2(m % 60);
const hhmmss = m => hhmm(m) + ':00';
const pts = arr => arr.map((v, i) => ({ x: i * STEP_MIN, y: v }));
const ranges = (lo, hi) => hi.map((v, i) => ({ x: i * STEP_MIN, y: [lo[i], v] }));

Chart.defaults.font.family = "'DejaVu Sans', sans-serif";
Chart.defaults.color = '#000';

// cornsilk plot background, black frame on all four sides, right-hand axis label read bottom-up
const plotFrame = {
  id: 'plotFrame',
  beforeDraw(chart) {
    const { ctx, chartArea: a } = chart;
    ctx.save();
    ctx.fillStyle = '#fff8dc';
    ctx.fillRect(a.left, a.top, a.right - a.left, a.bottom - a.top);
    ctx.restore();
  },
  afterDraw(chart) {
    const { ctx, chartArea: a } = chart;
    ctx.save();
    ctx.strokeStyle = '#000';
    ctx.lineWidth = 1.5;
    ctx.strokeRect(a.left, a.top, a.right - a.left, a.bottom - a.top);
    ctx.translate(chart.width - 20, (a.top + a.bottom) / 2);
    ctx.rotate(-Math.PI / 2);
    ctx.fillStyle = '#000';
    ctx.font = "11.6px 'DejaVu Sans'";
    ctx.textAlign = 'center';
    ctx.textBaseline = 'middle';
    ctx.fillText('dB SPL', 0, 0);
    ctx.restore();
  }
};

function makeOptions(fmt, padTop, xHeight, xTitlePad) {
  const yAxis = (pos, width) => ({
    type: 'linear', position: pos, min: Y_MIN, max: Y_MAX,
    afterFit: s => { s.width = width; },
    ticks: { stepSize: 4, padding: 5, font: { size: 7.7 }, callback: v => v % 12 === 0 ? v : '' },
    grid: {
      drawOnChartArea: pos === 'left',
      color: c => c.tick && c.tick.value % 12 === 0 ? '#aaaaaa' : '#c9c4b4',
      lineWidth: c => c.tick && c.tick.value % 12 === 0 ? 1.6 : 0.9,
      tickLength: 7, tickColor: '#000', tickWidth: 1
    },
    border: { display: false, dash: c => c.tick && c.tick.value % 12 === 0 ? [] : [3, 2] },
    title: { display: pos === 'left', text: 'dB SPL', font: { size: 11.6 }, padding: { top: 11, bottom: 0 } }
  });
  return {
    responsive: true, maintainAspectRatio: false, animation: false, devicePixelRatio: 1,
    layout: { padding: { top: padTop, left: 0, right: 0, bottom: 0 } },
    plugins: { legend: { display: false }, tooltip: { enabled: false } },
    elements: { point: { radius: 0 }, line: { tension: 0 } },
    scales: {
      x: {
        type: 'linear', position: 'bottom', min: X_MIN, max: X_MAX, offset: false,
        afterFit: s => { s.height = xHeight; },
        ticks: { stepSize: 30, includeBounds: false, autoSkip: false, maxRotation: 0, padding: 5,
                 font: { size: 7.7 }, callback: v => v % 120 === 0 ? fmt(v) : '' },
        grid: {
          offset: false,
          color: c => c.tick && c.tick.value % 120 === 0 ? '#aaaaaa' : '#cfc8b4',
          lineWidth: c => c.tick && c.tick.value % 120 === 0 ? 1.3 : 0.9,
          tickLength: 6, tickColor: '#000', tickWidth: 1
        },
        border: { display: false, dash: c => c.tick && c.tick.value % 120 === 0 ? [] : [3, 2] },
        title: { display: true, text: 'time', font: { size: 11.6 }, padding: { top: 0, bottom: xTitlePad } }
      },
      y: yAxis('left', 59),
      y2: yAxis('right', 57)
    }
  };
}

const line = (data, color, width, order) => ({
  data: pts(data), borderColor: color, borderWidth: width, pointRadius: 0, fill: false, order
});
const dots = (data, color, order) => ({
  data: pts(data), showLine: false, pointRadius: 1.7, pointBorderWidth: 0,
  pointBackgroundColor: color, backgroundColor: color, order
});

new Chart(document.getElementById('top'), {
  type: 'line',
  data: {
    datasets: [
      line(avgZ, 'steelblue', 1.3, 1),
      line(avgC, 'orchid', 1.3, 2),
      line(avgA, 'yellowgreen', 1.3, 3),
      dots(peakZ, 'dodgerblue', 4),
      dots(peakC, 'magenta', 5),
      dots(peakA, 'seagreen', 6)
    ]
  },
  options: makeOptions(hhmm, 24, 52, 13),
  plugins: [plotFrame]
});

new Chart(document.getElementById('bottom'), {
  type: 'line',
  data: {
    datasets: [
      line(avg5Z, 'crimson', 1.8, 1),
      // lower half of the envelope as a band under the dB(Z) line
      { data: pts(envMin), borderColor: 'rgba(240,150,130,0.4)', borderWidth: 0.8, pointRadius: 0,
        fill: '-1', backgroundColor: 'rgba(250,128,114,0.3)', order: 5 },
      line(avg5C, 'darkorange', 1.8, 2),
      line(avg5A, 'gold', 1.6, 3),
      // 15 s min/max spikes
      { type: 'bar', data: ranges(envMin, envMax), backgroundColor: 'rgba(250,128,114,0.28)',
        borderWidth: 0, barThickness: 2, grouped: false, order: 4 }
    ]
  },
  options: makeOptions(hhmmss, 15, 51, 11),
  plugins: [plotFrame]
});
</script>
</body>
</html>
